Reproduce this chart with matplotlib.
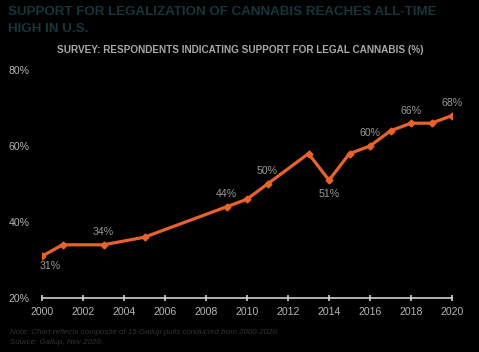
import matplotlib
matplotlib.use("Agg")
import matplotlib.pyplot as plt
from matplotlib.ticker import FuncFormatter

years = [2000, 2001, 2003, 2005, 2009, 2010, 2011, 2013, 2014, 2015, 2016, 2017, 2018, 2019, 2020]
support = [31, 34, 34, 36, 44, 46, 50, 58, 51, 58, 60, 64, 66, 66, 68]
labels = {2000: ("31%", "below"), 2003: ("34%", "above"), 2009: ("44%", "above"),
          2011: ("50%", "above"), 2014: ("51%", "below"), 2016: ("60%", "above"),
          2018: ("66%", "above"), 2020: ("68%", "above")}
xticks = list(range(2000, 2021, 2))
yticks = [20, 40, 60, 80]

plt.rcParams['font.family'] = ['Liberation Sans', 'DejaVu Sans']

fig = plt.figure(figsize=(4.79, 3.52), dpi=100, facecolor='black')
ax = fig.add_axes([42/479, 1-298/352, (452-42)/479, (298-70)/352])
ax.set_facecolor('black')

orange = '#e8632b'
ax.plot(years, support, color=orange, lw=2.3, marker='D', ms=3.5, mec=orange, mfc=orange, zorder=3)

for x, y in zip(years, support):
    if x in labels:
        t, pos = labels[x]
        if x == 2000:
            off = (6, -7)
        else:
            off = (0, 9) if pos == 'above' else (0, -10)
        ax.annotate(t, (x, y), xytext=off, textcoords='offset points',
                    ha='center', va='center', color='#9a9a9a', fontsize=7.6)

ax.set_xlim(2000, 2020)
ax.set_ylim(20, 80)
ax.set_xticks(xticks)
ax.set_yticks(yticks)
ax.yaxis.set_major_formatter(FuncFormatter(lambda v, p: f"{int(v)}%"))
for s in ['top', 'right', 'left']:
    ax.spines[s].set_visible(False)
ax.spines['bottom'].set_color('#d0d0d0')
ax.spines['bottom'].set_linewidth(1.2)
ax.tick_params(axis='x', colors='#d0d0d0', labelcolor='#b5b5b5', labelsize=7.6, width=1.2, pad=4)
ax.tick_params(axis='y', length=0, labelcolor='#b5b5b5', labelsize=7.6, pad=9)
ax.xaxis.set_tick_params(direction='inout', length=5)

fig.text(8/479, 1-12/352, "SUPPORT FOR LEGALIZATION OF CANNABIS REACHES ALL-TIME", color='#17353b',
         fontsize=9.6, fontweight='bold', ha='left', va='center')
fig.text(8/479, 1-29/352, "HIGH IN U.S.", color='#17353b',
         fontsize=9.6, fontweight='bold', ha='left', va='center')
fig.text(240/479, 1-50/352, "SURVEY: RESPONDENTS INDICATING SUPPORT FOR LEGAL CANNABIS (%)", color='#a8a8a8',
         fontsize=7.2, fontweight='bold', ha='center', va='center')
fig.text(10/479, 1-332/352, "Note: Chart reflects composite of 15 Gallup polls conducted from 2000-2020.",
         color='#333333', fontsize=5.7, style='italic', ha='left', va='center')
fig.text(10/479, 1-343/352, "Source: Gallup, Nov 2020.",
         color='#333333', fontsize=5.7, style='italic', ha='left', va='center')

fig.savefig('out.png', dpi=100, facecolor='black')
